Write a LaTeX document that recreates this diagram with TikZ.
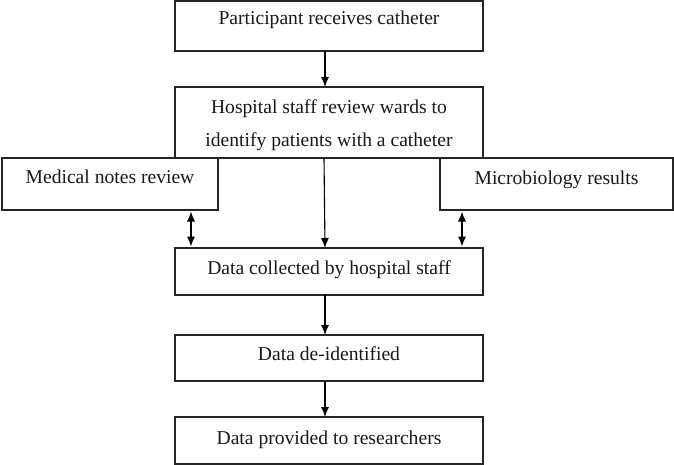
\documentclass[tikz,border=0pt]{standalone}
\usepackage{fontspec}
\setmainfont{Liberation Serif}
\usetikzlibrary{arrows.meta}
\begin{document}
\begin{tikzpicture}[x=1pt,y=-1pt,
  box/.style={draw=black!85, line width=1.3pt, fill=white, inner sep=0pt, outer sep=0pt, anchor=north west},
  txt/.style={font=\fontsize{19.6}{33}\selectfont, inner sep=0pt, align=center, text=black!90},
  arr/.style={line width=1.1pt, -{Latex[length=10pt,width=8pt]}},
  darr/.style={line width=1.1pt, {Latex[length=10pt,width=8pt]}-{Latex[length=10pt,width=8pt]}}]
\useasboundingbox (0,0) rectangle (674,465);
% boxes
\node[box, minimum width=308pt, minimum height=50pt] (b1) at (175,1) {};
\node[box, minimum width=308pt, minimum height=71pt] (b2) at (175,87) {};
\node[box, minimum width=216pt, minimum height=52pt] (med) at (2,158) {};
\node[box, minimum width=233pt, minimum height=52pt] (mic) at (440,158) {};
\node[box, minimum width=308pt, minimum height=47pt] (dc) at (175,248) {};
\node[box, minimum width=308pt, minimum height=46pt] (di) at (175,335) {};
\node[box, minimum width=308pt, minimum height=47pt] (dp) at (175,417) {};
% texts
\node[txt, anchor=base] (t1) at ([yshift=-24pt]b1.north) {Participant receives catheter};
\node[txt, anchor=base] (t2) at ([yshift=-27pt]b2.north) {Hospital staff review wards to};
\node[txt, anchor=base] (t2b) at ([yshift=-60pt]b2.north) {identify patients with a catheter};
\node[txt, anchor=base] (tm) at ([yshift=-26pt]med.north) {Medical notes review};
\node[txt, anchor=base] (tr) at ([yshift=-27pt]mic.north) {Microbiology results};
\node[txt, anchor=base] (tc) at ([yshift=-26pt]dc.north) {Data collected by hospital staff};
\node[txt, anchor=base] (ti) at ([yshift=-25pt]di.north) {Data de-identified};
\node[txt, anchor=base] (tp) at ([yshift=-27pt]dp.north) {Data provided to researchers};
% arrows
\draw[arr] ([xshift=-4pt]b1.south) -- ([xshift=-4pt]b2.north);
\draw[arr] ([xshift=-5pt]b2.south) -- ([xshift=-4pt]dc.north);
\draw[arr] ([xshift=-4pt]dc.south) -- ([xshift=-4pt]di.north);
\draw[arr] ([xshift=-4pt]di.south) -- ([xshift=-4pt]dp.north);
\draw[darr] ([xshift=-27pt,yshift=-1.5pt]med.south east) -- ([xshift=16pt,yshift=1.5pt]dc.north west);
\draw[darr] ([xshift=22pt,yshift=-1.5pt]mic.south west) -- ([xshift=-21pt,yshift=1.5pt]dc.north east);
\end{tikzpicture}
\end{document}
